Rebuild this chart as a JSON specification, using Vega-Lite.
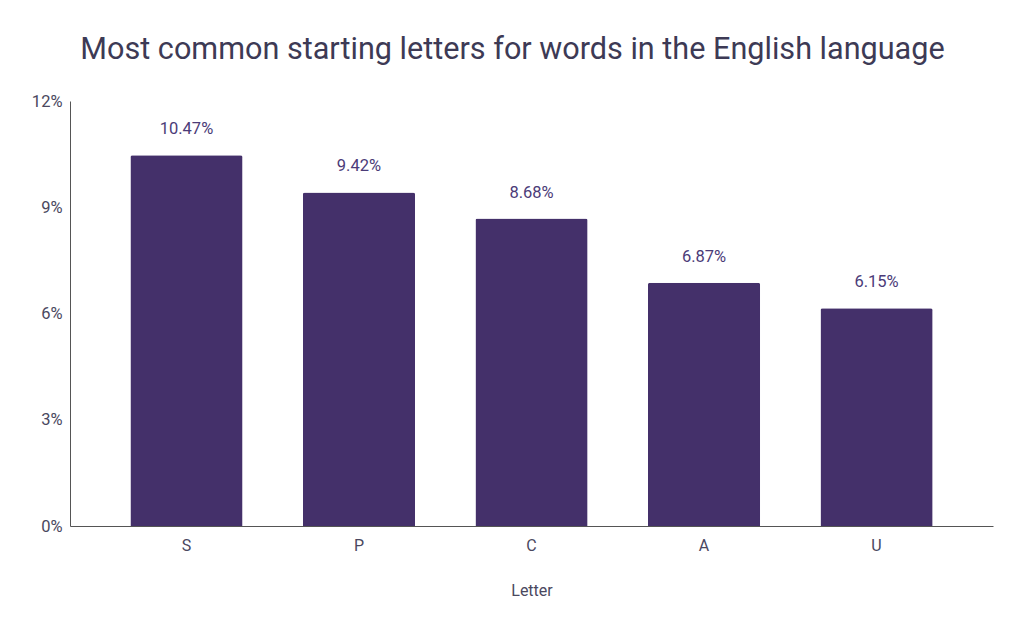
{
  "$schema": "https://vega.github.io/schema/vega-lite/v6.json",
  "autosize": "none",
  "width": 923,
  "height": 425,
  "padding": {"left": 70, "top": 101, "right": 31, "bottom": 108},
  "background": "white",
  "title": {
    "text": "Most common starting letters for words in the English language",
    "font": "Roboto",
    "fontSize": 30.6,
    "fontWeight": "normal",
    "color": "#3d3a55",
    "anchor": "middle",
    "dx": -19,
    "offset": 27
  },
  "data": {
    "values": [
      {"letter": "S", "share": 0.1047},
      {"letter": "P", "share": 0.0942},
      {"letter": "C", "share": 0.0868},
      {"letter": "A", "share": 0.0687},
      {"letter": "U", "share": 0.0615}
    ]
  },
  "encoding": {
    "x": {
      "field": "letter",
      "type": "nominal",
      "sort": null,
      "title": "Letter",
      "scale": {"paddingInner": 0.35, "paddingOuter": 0.35},
      "axis": {
        "labelAngle": 0,
        "labelFont": "Roboto",
        "labelFontSize": 16,
        "labelColor": "#4a4860",
        "labelPadding": 11,
        "ticks": false,
        "domainColor": "#555",
        "titleFont": "Roboto",
        "titleFontSize": 16,
        "titleFontWeight": "normal",
        "titleColor": "#4a4860",
        "titlePadding": 29
      }
    },
    "y": {
      "field": "share",
      "type": "quantitative",
      "title": null,
      "scale": {"domain": [0, 0.12]},
      "axis": {
        "values": [0, 0.03, 0.06, 0.09, 0.12],
        "format": ".0%",
        "grid": false,
        "ticks": false,
        "labelFont": "Roboto",
        "labelFontSize": 16.5,
        "labelColor": "#4a4860",
        "labelPadding": 8,
        "domainColor": "#555"
      }
    }
  },
  "layer": [
    {
      "mark": {"type": "bar", "color": "#44306a", "cornerRadiusTopLeft": 2, "cornerRadiusTopRight": 2}
    },
    {
      "mark": {"type": "text", "baseline": "bottom", "dy": -18, "font": "Roboto", "fontSize": 16.5, "color": "#4b3b78"},
      "encoding": {
        "text": {"field": "share", "type": "quantitative", "format": ".2%"}
      }
    }
  ],
  "config": {"view": {"stroke": null}}
}
